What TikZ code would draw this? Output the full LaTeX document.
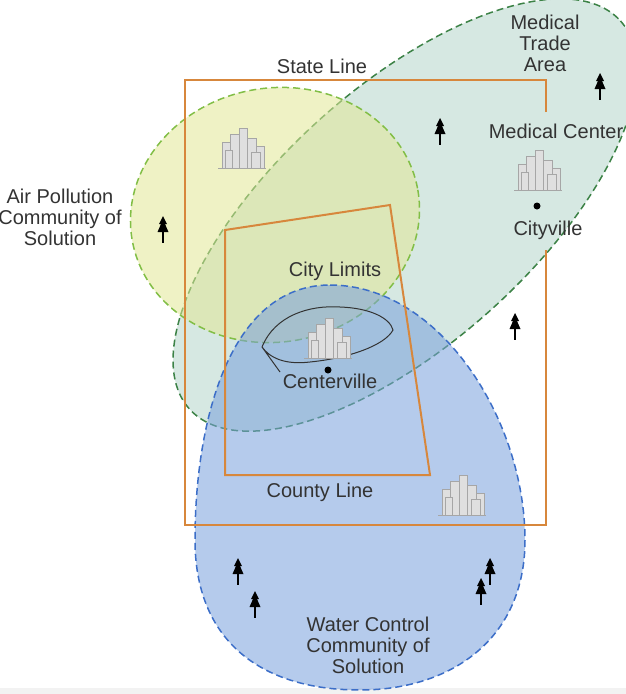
\documentclass[tikz,border=0pt]{standalone}
\usepackage{fontspec}
\setmainfont{Liberation Sans}
\begin{document}
\begin{tikzpicture}[x=1pt,y=-1pt,
  lbl/.style={font=\fontsize{20}{21}\selectfont, text=black!80, align=center, inner sep=0pt},
  border/.style={draw={rgb,255:red,215;green,135;blue,60}, line width=2pt},
  zone/.style={dash pattern=on 7pt off 4pt, line width=1.5pt},
  tree/.pic={\fill[black] (0,-12) -- (-4,-4) -- (-2,-4) -- (-5.5,4) -- (5.5,4) -- (2,-4) -- (4,-4) -- cycle; \draw[black,line width=1.5pt] (0,4) -- (0,15);},
  town/.pic={\foreach \xx/\hh/\ww in {-20/26/8,-12/34/9,-3/40/8,5/30/9,14/22/8,-17/18/7,9/16/9}{\filldraw[fill=gray!25,draw=gray!70,line width=0.4pt] (\xx,0) rectangle ++(\ww,-\hh);}
    \draw[gray!70] (-24,0) -- (24,0);}]
\useasboundingbox (0,0) rectangle (626,694);
\fill[gray!10] (0,688) rectangle (626,694);
% medical trade area
\path[fill={rgb,255:red,200;green,224;blue,216}, fill opacity=0.75, draw={rgb,255:red,60;green,130;blue,70}, zone]
  [rotate around={42:(405,215)}] (405,215) ellipse [x radius=290, y radius=128];
% yellow air pollution
\path[fill={rgb,255:red,225;green,232;blue,150}, fill opacity=0.55, draw={rgb,255:red,130;green,190;blue,70}, zone]
  [rotate around={10:(275,215)}] (275,215) ellipse [x radius=145, y radius=127];
% blue water
\path[fill={rgb,255:red,120;green,160;blue,220}, fill opacity=0.55, draw={rgb,255:red,60;green,110;blue,200}, zone]
  (330,285) .. controls (440,285) and (525,420) .. (525,540) .. controls (525,640) and (450,690) .. (360,690) .. controls (260,690) and (195,640) .. (195,540) .. controls (195,420) and (230,285) .. (330,285);
% state line
\coordinate (s1) at (546,112); \coordinate (s2) at (546,250);
\draw[border] (s1) -- (546,80) -- (185,80) -- (185,525) -- (546,525) -- (s2);
% city limits
\draw[border] (225,230) -- (390,205) -- (430,475) -- (225,475) -- cycle;
% centerville sketch
\draw[black!80, line width=1pt] (262,347) .. controls (275,315) and (310,305) .. (340,307) .. controls (370,308) and (390,318) .. (393,330) .. controls (385,345) and (350,358) .. (310,362) .. controls (285,365) and (270,358) .. (262,347) -- (280,372);
\foreach \a/\b/\c/\d in {275,322,284,332, 290,313,296,326, 305,309,308,324, 322,307,322,323, 338,307,336,323, 354,309,350,324, 368,313,360,327, 382,320,371,332, 389,333,376,338, 378,342,368,347, 362,350,354,354}
  \draw[black!80, line width=0.8pt] (\a,\b) -- (\c,\d);
% towns
\pic at (242,168) {town};
\pic at (538,190) {town};
\pic at (328,358) {town};
\pic at (462,515) {town};
% trees
\foreach \p in {(163,228),(440,130),(600,85),(515,325),(238,570),(255,603),(490,570),(481,590)} \pic at \p {tree};
% dots
\fill (537,206) circle (3.5);
\fill (328,370) circle (3.5);
% labels
\node[lbl] (tState) at (322,66) {State Line};
\node[lbl] (tMed) at (545,43) {Medical\\Trade\\Area};
\node[lbl] (tMC) at (556,131) {Medical Center};
\node[lbl] (tCity) at (548,230) {Cityville};
\node[lbl] (tAir) at (60,217) {Air Pollution\\Community of\\Solution};
\node[lbl] (tLim) at (335,271) {City Limits};
\node[lbl] (tCen) at (330,381) {Centerville};
\node[lbl] (tCounty) at (320,492) {County Line};
\node[lbl] (tWater) at (368,645) {Water Control\\Community of\\Solution};
\end{tikzpicture}
\end{document}
